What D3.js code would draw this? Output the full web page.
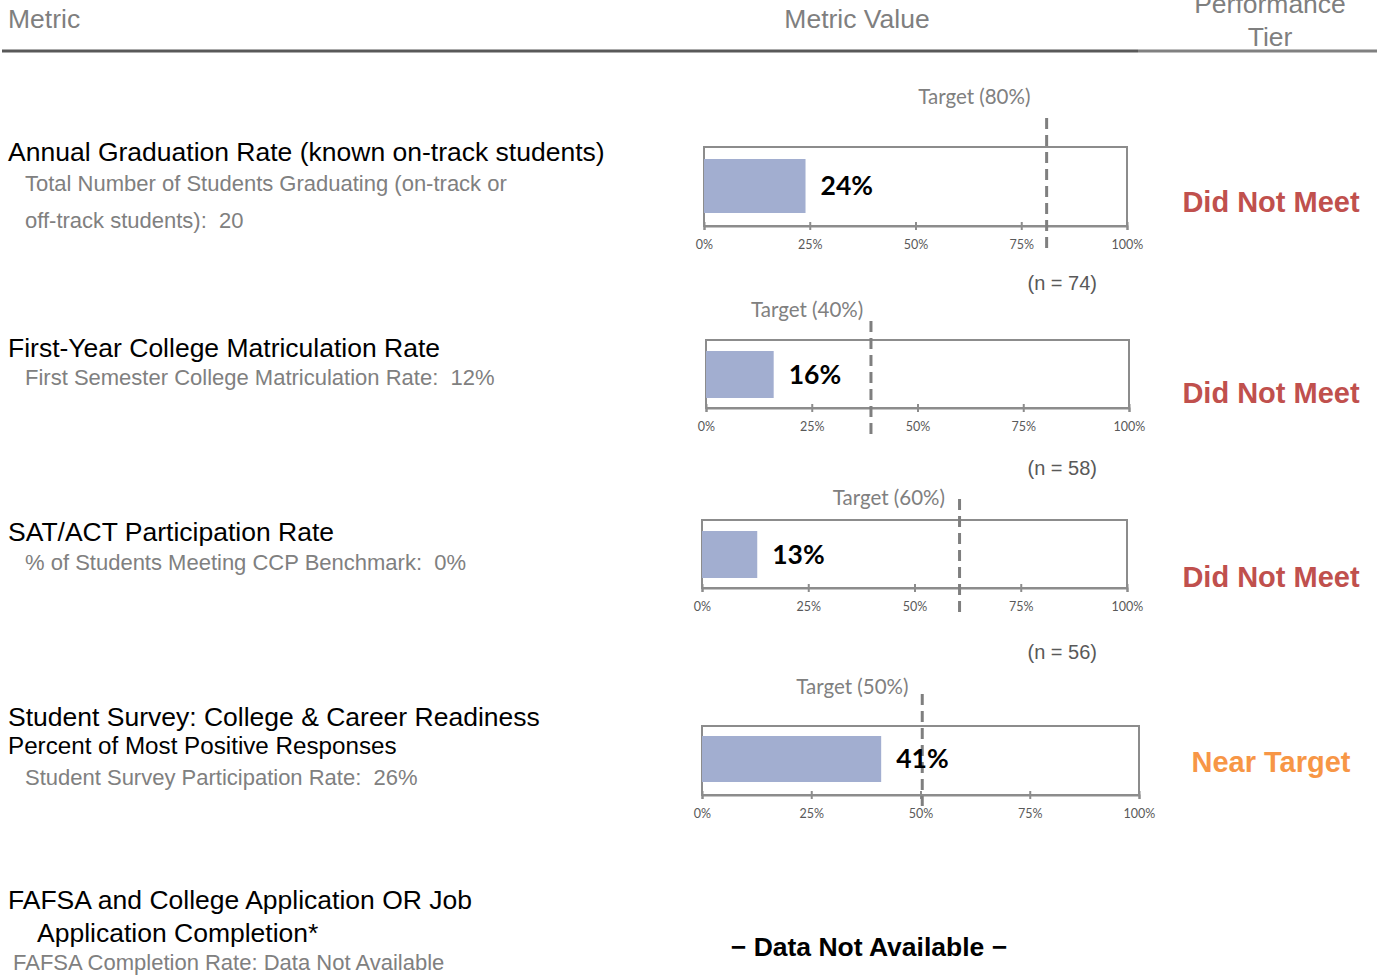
<!DOCTYPE html>
<html>
<head>
<meta charset="utf-8">
<script src="https://cdn.jsdelivr.net/npm/d3@7"></script>
<style>
  body { margin:0; background:#fff; }
  text { font-family: "Liberation Sans", Arial, sans-serif; white-space: pre; }
  .calib { font-family: Lato, "Open Sans", sans-serif; }
</style>
</head>
<body>
<div id="chart"></div>
<script>
// values
var metrics = ["Annual Graduation Rate", "First-Year College Matriculation Rate", "SAT/ACT Participation Rate", "Student Survey: College & Career Readiness"]
var values = [24, 16, 13, 41]
var targets = [80, 40, 60, 50]
var targetMarks = [81, 39, 60.6, 50.4]   // where the dashed line actually sits
var nLabels = ["(n = 74)", "(n = 58)", "(n = 56)", ""]
var tiers = ["Did Not Meet", "Did Not Meet", "Did Not Meet", "Near Target"]
var tickValues = [0, 25, 50, 75, 100]

var leftLines = [
  [["Annual Graduation Rate (known on-track students)", "title", 8, 152],
   ["Total Number of Students Graduating (on-track or", "sub", 25, 183],
   ["off-track students):  20", "sub", 25, 220]],
  [["First-Year College Matriculation Rate", "title", 8, 348],
   ["First Semester College Matriculation Rate:  12%", "sub", 25, 377]],
  [["SAT/ACT Participation Rate", "title", 8, 532],
   ["% of Students Meeting CCP Benchmark:  0%", "sub", 25, 562]],
  [["Student Survey: College & Career Readiness", "title", 8, 717],
   ["Percent of Most Positive Responses", "title2", 8, 746],
   ["Student Survey Participation Rate:  26%", "sub", 25, 777]],
  [["FAFSA and College Application OR Job", "title", 8, 900],
   ["Application Completion*", "title", 37, 933],
   ["FAFSA Completion Rate: Data Not Available", "sub", 13, 962]]
]

// layout of each little bullet chart
var boxes = [
  {x0:704, x1:1127, top:147, axis:226, barTop:159, barBot:213, dashTop:118, dashBot:253, tgtY:97, nY:283, tierY:202},
  {x0:706, x1:1129, top:340, axis:408, barTop:351, barBot:398, dashTop:321, dashBot:437, tgtY:310, nY:468, tierY:393},
  {x0:702, x1:1127, top:520, axis:588, barTop:531, barBot:578, dashTop:499, dashBot:617, tgtY:498, nY:652, tierY:577},
  {x0:702, x1:1139, top:726, axis:795, barTop:736, barBot:782, dashTop:694, dashBot:806, tgtY:687, nY:0, tierY:762}
]

var tierColor = {"Did Not Meet":"#c0504d", "Near Target":"#f79646"}
var fontSizes = {title:"26.5px", title2:"24.2px", sub:"22px"}

var svg = d3.select("#chart")
    .append("svg")
    .attr("width", 1383)
    .attr("height", 977)

// header
svg.append("text").attr("x",8).attr("y",19).attr("dy","0.35em")
    .style("font-size","26.5px").style("fill","#7f7f7f").text("Metric")
svg.append("text").attr("x",857).attr("y",19).attr("dy","0.35em").attr("text-anchor","middle")
    .style("font-size","26.5px").style("fill","#7f7f7f").text("Metric Value")
svg.append("text").attr("x",1270).attr("y",4).attr("dy","0.35em").attr("text-anchor","middle")
    .style("font-size","26.5px").style("fill","#7f7f7f").text("Performance")
svg.append("text").attr("x",1270).attr("y",37).attr("dy","0.35em").attr("text-anchor","middle")
    .style("font-size","26.5px").style("fill","#7f7f7f").text("Tier")
svg.append("line").attr("x1",2).attr("x2",1138).attr("y1",51).attr("y2",51)
    .style("stroke","#595959").style("stroke-width",3)
svg.append("line").attr("x1",1138).attr("x2",1377).attr("y1",51).attr("y2",51)
    .style("stroke","#808080").style("stroke-width",3)

// left column
leftLines.forEach(function(group){
  group.forEach(function(l){
    svg.append("text")
      .attr("x", l[2]).attr("y", l[3]).attr("dy","0.35em")
      .style("font-size", fontSizes[l[1]])
      .style("fill", l[1]=="sub" ? "#808080" : "#000")
      .text(l[0])
  })
})

// bullet charts
values.forEach(function(v, i){
  var b = boxes[i]
  var x = d3.scaleLinear().domain([0,100]).range([b.x0, b.x1])
  var g = svg.append("g")

  g.append("rect")
    .attr("x", x(0)).attr("y", b.top)
    .attr("width", x(100)-x(0)).attr("height", b.axis-b.top)
    .style("fill","none").style("stroke","#8c8c8c").style("stroke-width",2)

  g.append("rect")
    .attr("x", x(0)).attr("y", b.barTop)
    .attr("width", x(v)-x(0)).attr("height", b.barBot-b.barTop)
    .style("fill","#a2aed0")

  var ax = g.append("g")
    .attr("transform","translate(0,"+b.axis+")")
    .call(d3.axisBottom(x).tickValues(tickValues).tickSize(4).tickPadding(10).tickFormat(function(d){return d+"%"}))
  ax.select(".domain").style("stroke","#8c8c8c").style("stroke-width",2)
  ax.selectAll(".tick line").attr("y1",-4).attr("y2",4).style("stroke","#8c8c8c").style("stroke-width",2)
  ax.selectAll(".tick text").style("font-size","12.5px").style("fill","#595959")
    .style("font-family","Lato, 'Open Sans', sans-serif")

  g.append("line")
    .attr("x1", x(targetMarks[i])).attr("x2", x(targetMarks[i]))
    .attr("y1", b.dashTop).attr("y2", b.dashBot)
    .style("stroke","#7f7f7f").style("stroke-width",3).style("stroke-dasharray","11,6")

  g.append("text")
    .attr("class","calib")
    .attr("x", x(targets[i]) - 12).attr("y", b.tgtY).attr("dy","0.35em")
    .attr("text-anchor","end")
    .style("font-size","20.5px").style("fill","#808080")
    .text("Target (" + targets[i] + "%)")

  g.append("text")
    .attr("class","calib")
    .attr("x", x(v) + 15).attr("y", (b.barTop+b.barBot)/2).attr("dy","0.35em")
    .style("font-size","26.5px").style("font-weight","bold").style("fill","#000")
    .text(v + "%")

  if (nLabels[i]) {
    g.append("text")
      .attr("x", 1097).attr("y", b.nY).attr("dy","0.35em").attr("text-anchor","end")
      .style("font-size","20px").style("fill","#595959")
      .text(nLabels[i])
  }

  g.append("text")
    .attr("x", 1271).attr("y", b.tierY).attr("dy","0.35em").attr("text-anchor","middle")
    .style("font-size","29px").style("font-weight","bold").style("fill", tierColor[tiers[i]])
    .text(tiers[i])
})

svg.append("text")
    .attr("x", 869).attr("y", 947).attr("dy","0.35em").attr("text-anchor","middle")
    .style("font-size","26.5px").style("font-weight","bold").style("fill","#000")
    .text("\u2212 Data Not Available \u2212")
</script>
</body>
</html>
